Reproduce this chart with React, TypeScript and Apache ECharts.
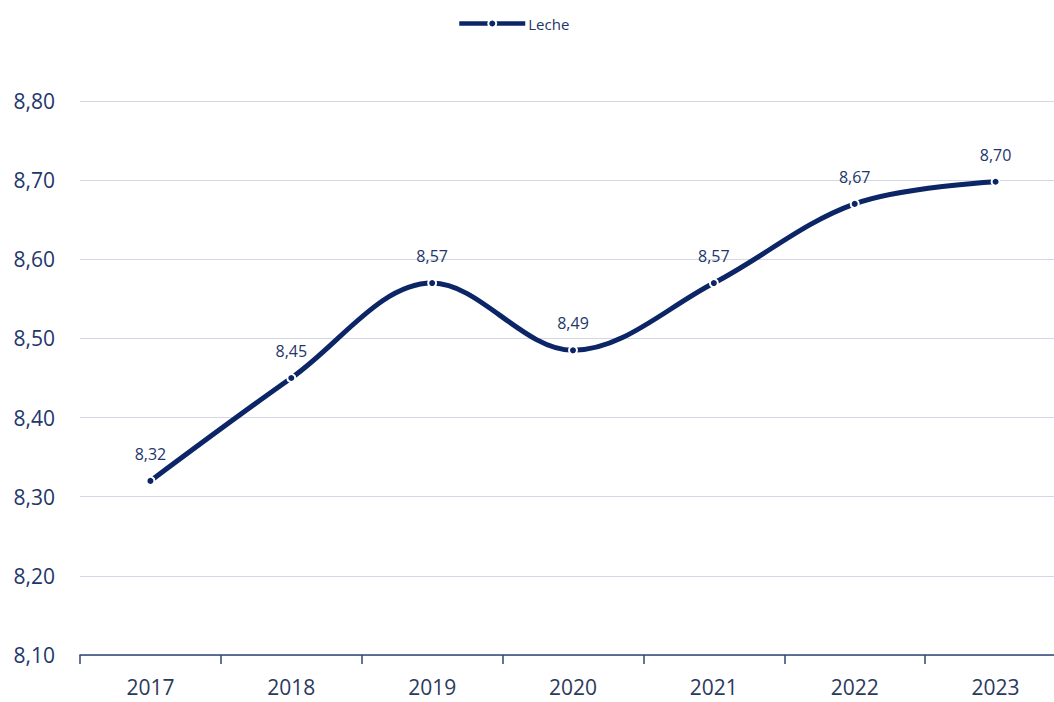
import React, { useEffect, useRef } from "react";
import * as echarts from "echarts";

const years = ["2017", "2018", "2019", "2020", "2021", "2022", "2023"];
const leche = [8.32, 8.45, 8.57, 8.485, 8.57, 8.67, 8.698];
const labels = ["8,32", "8,45", "8,57", "8,49", "8,57", "8,67", "8,70"];

const NAVY = "#0b2566";
const TEXT = "#23366a";
const FONT = "'Open Sans', 'Noto Sans', sans-serif";

export default function App() {
  const ref = useRef<HTMLDivElement>(null);
  useEffect(() => {
    document.body.style.margin = "0";
    document.body.style.overflow = "hidden";
    const chart = echarts.init(ref.current!, null, { renderer: "svg" });
    chart.setOption({
      animation: false,
      backgroundColor: "#ffffff",
      legend: {
        top: 11,
        left: 452,
        itemWidth: 66,
        itemHeight: 10,
        itemGap: 4,
        lineStyle: { width: 4.5 },
        textStyle: { color: TEXT, fontFamily: FONT, fontSize: 15, padding: [0, 0, 0, -2] },
        data: ["Leche"],
      },
      grid: { left: 80, right: 0, top: 101, bottom: 47, containLabel: false },
      xAxis: {
        type: "category",
        data: years,
        boundaryGap: true,
        axisLine: { lineStyle: { color: "#2f4676", width: 1.5 } },
        axisTick: { show: true, length: 9, lineStyle: { color: "#2f4676", width: 1.5 } },
        axisLabel: { color: "#2b3a5c", fontFamily: FONT, fontSize: 21, margin: 21 },
      },
      yAxis: {
        type: "value",
        min: 8.1,
        max: 8.8,
        interval: 0.1,
        axisLine: { show: false },
        axisTick: { show: false },
        splitLine: { lineStyle: { color: "#d3d7e3", width: 1.2 } },
        axisLabel: {
          color: TEXT,
          fontFamily: FONT,
          fontSize: 21,
          margin: 25,
          formatter: (v: number) => v.toFixed(2).replace(".", ","),
        },
      },
      series: [
        {
          name: "Leche",
          type: "line",
          data: leche,
          smooth: 0.35,
          symbol: "circle",
          symbolSize: 8,
          itemStyle: { color: NAVY, borderColor: "#ffffff", borderWidth: 2 },
          lineStyle: { color: NAVY, width: 5 },
          label: {
            show: true,
            position: "top",
            distance: 14,
            color: TEXT,
            fontFamily: FONT,
            fontSize: 16,
            formatter: (p: any) => labels[p.dataIndex],
          },
        },
      ],
    });
    return () => chart.dispose();
  }, []);
  return (
    <div
      ref={ref}
      style={{ position: "absolute", left: 0, top: 0, width: 1066, height: 702 }}
    />
  );
}
